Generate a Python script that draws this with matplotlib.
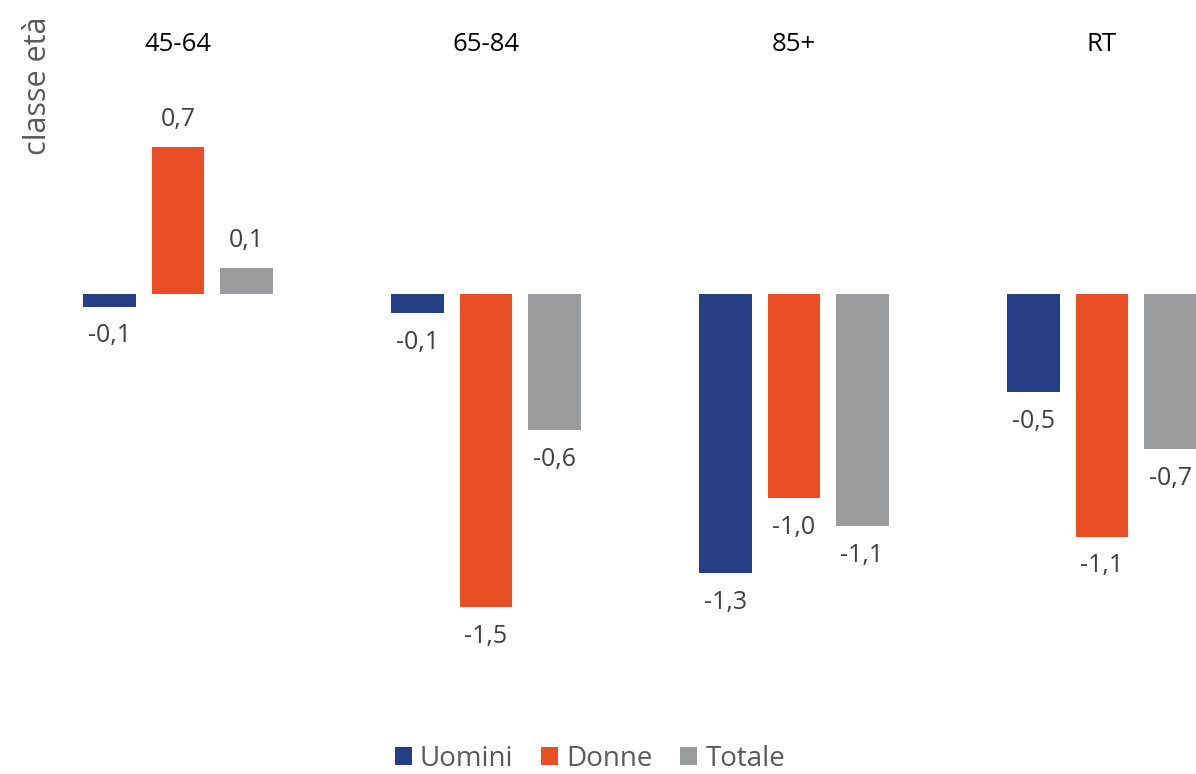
import matplotlib.pyplot as plt
import numpy as np

plt.rcParams['font.family'] = ['Open Sans', 'DejaVu Sans']

# dati: variazione per classe di età
classi = ['45-64', '65-84', '85+', 'RT']
uomini = [-0.06, -0.09, -1.31, -0.46]
donne = [0.69, -1.47, -0.96, -1.14]
totale = [0.12, -0.64, -1.09, -0.73]

serie = ['Uomini', 'Donne', 'Totale']
colori = ['#243f86', '#e94e24', '#9a9c9d']

fig = plt.figure(figsize=(11.96, 7.74), dpi=100)
# l'asse esce a destra: il grafico originale è tagliato sul bordo
ax = fig.add_axes([24 / 1196, 34 / 774, 1232 / 1196, 740 / 774])

x = np.arange(len(classi))
width = 0.172
step = 0.221

for i, (nome, valori, col) in enumerate(zip(serie, [uomini, donne, totale], colori)):
    pos = x + (i - 1) * step
    ax.bar(pos, valori, width, color=col, label=nome)
    for xp, v in zip(pos, valori):
        etichetta = f"{v:.1f}".replace('.', ',')
        off = 20 if v >= 0 else -21
        ax.annotate(etichetta, (xp, v), xytext=(0, off), textcoords='offset points',
                    ha='center', va='center', fontsize=18, color='#404040')

ax.set_xlim(-0.5, len(classi) - 0.5)
ax.set_ylim(-2.094, 1.38)
for s in ax.spines.values():
    s.set_visible(False)
ax.set_xticks([])
ax.set_yticks([])

# etichette delle classi in alto
for xp, c in zip(x, classi):
    ax.text(xp, 1.17, c, ha='center', va='center', fontsize=18.5, color='black')

fig.text(38 / 1196, 1 - 86 / 774, 'classe età', rotation=90, ha='center', va='center',
         fontsize=22, color='#595959')

fig.legend(loc='center', bbox_to_anchor=(590 / 1196, 1 - 759 / 774), ncol=3, frameon=False,
           fontsize=20, handlelength=0.6, handleheight=0.6, handletextpad=0.3,
           columnspacing=1.0, labelcolor='#595959', borderpad=0.2)

plt.savefig('out.png', dpi=100)
